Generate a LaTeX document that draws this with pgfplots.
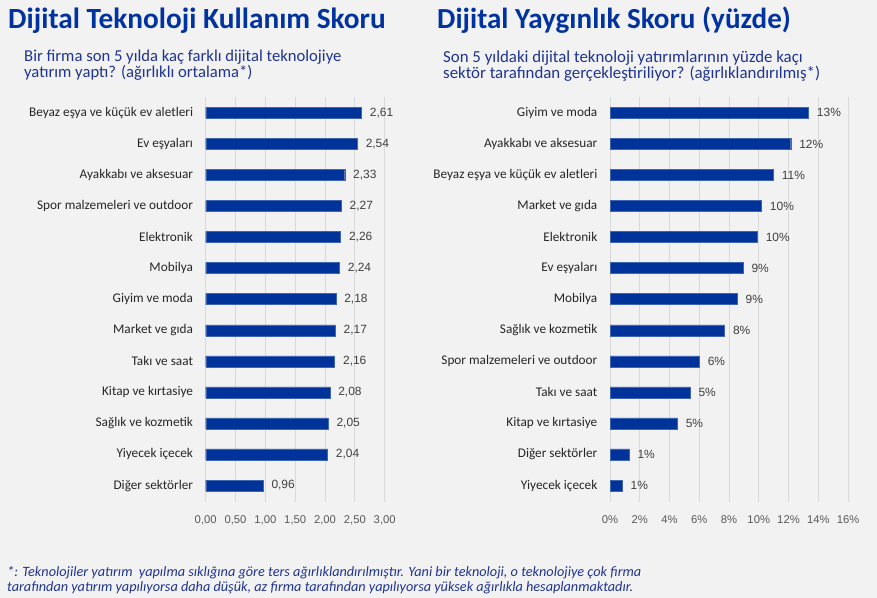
\documentclass[border=0pt]{standalone}
\usepackage{pgfplots}
\pgfplotsset{compat=1.18}
\usepackage{fontspec}
\setmainfont{Carlito}
\newfontfamily\arial{Liberation Sans}
\definecolor{bg}{HTML}{F2F2F2}
\definecolor{barc}{HTML}{003399}
\definecolor{ttl}{HTML}{0033A0}
\definecolor{sub}{HTML}{1F3490}
\definecolor{gridc}{HTML}{D9D9D9}
\definecolor{tickc}{HTML}{595959}
\definecolor{valc}{HTML}{404040}
\definecolor{catc}{HTML}{262626}

\pgfplotstableread{
idx val
0 2.61
1 2.54
2 2.33
3 2.27
4 2.26
5 2.24
6 2.18
7 2.17
8 2.16
9 2.08
10 2.05
11 2.04
12 0.96
}\lefttab

\pgfplotstableread{
idx val
0 13.34
1 12.15
2 10.98
3 10.18
4 9.9
5 8.94
6 8.55
7 7.7
8 6.0
9 5.38
10 4.52
11 1.28
12 0.82
}\righttab

\pgfplotsset{
  common/.style={
    scale only axis,
    xbar,
    y dir=reverse,
    ymin=-0.52, ymax=12.52,
    height=405bp,
    bar width=11bp,
    axis line style={draw=none},
    major tick length=0pt,
    xmajorgrids,
    major grid style={gridc, line width=0.8pt},
    ytick={0,...,12},
    /pgf/number format/assume math mode=true,
    yticklabel style={font=\fontsize{13.3}{15}\selectfont, text=catc, anchor=east, inner sep=0pt, xshift=-12.5bp},
    xticklabel style={font=\arial\fontsize{11.3}{13}\selectfont, text=tickc, anchor=base, inner sep=0pt, yshift=-21.5bp},
    nodes near coords,
    every node near coord/.append style={font=\arial\fontsize{12}{13}\selectfont, text=valc, xshift=5bp},
  }
}

\begin{document}
\begin{tikzpicture}[x=1bp,y=1bp]
\fill[bg] (0,0) rectangle (877,598);

% titles
\node[anchor=base west, inner sep=0, font=\fontsize{29.4}{32}\selectfont\bfseries, text=ttl] at (8,569.5) {Dijital Teknoloji Kullanım Skoru};
\node[anchor=base west, inner sep=0, font=\fontsize{29.2}{32}\selectfont\bfseries, text=ttl] at (437,569.5) {Dijital Yaygınlık Skoru (yüzde)};

\node[anchor=base west, inner sep=0, font=\fontsize{16.7}{18}\selectfont, text=sub] at (24,536) {Bir firma son 5 yılda kaç farklı dijital teknolojiye};
\node[anchor=base west, inner sep=0, font=\fontsize{16.7}{18}\selectfont, text=sub] at (24,520.5) {yatırım yaptı? (ağırlıklı ortalama*)};
\node[anchor=base west, inner sep=0, font=\fontsize{16.9}{18}\selectfont, text=sub] at (443,535) {Son 5 yıldaki dijital teknoloji yatırımlarının yüzde kaçı};
\node[anchor=base west, inner sep=0, font=\fontsize{16.9}{18}\selectfont, text=sub] at (443,519) {sektör tarafından gerçekleştiriliyor? (ağırlıklandırılmış*)};

% footnote
\node[anchor=base west, inner sep=0, font=\fontsize{14.3}{15}\selectfont\itshape, text=sub] at (7,21) {*: Teknolojiler yatırım\ \ yapılma sıklığına göre ters ağırlıklandırılmıştır. Yani bir teknoloji, o teknolojiye çok firma};
\node[anchor=base west, inner sep=0, font=\fontsize{14.3}{15}\selectfont\itshape, text=sub] at (7,6) {tarafından yatırım yapılıyorsa daha düşük, az firma tarafından yapılıyorsa yüksek ağırlıkla hesaplanmaktadır.};

% left chart
\begin{axis}[common,
  at={(205.7bp,96.3bp)}, anchor=south west,
  width=179bp,
  xmin=0, xmax=3,
  xtick={0,0.5,...,3},
  xticklabel={\pgfmathprintnumber[fixed,fixed zerofill,precision=2,use comma]{\tick}},
  yticklabels={Beyaz eşya ve küçük ev aletleri, Ev eşyaları, Ayakkabı ve aksesuar, Spor malzemeleri ve outdoor, Elektronik, Mobilya, Giyim ve moda, Market ve gıda, Takı ve saat, Kitap ve kırtasiye, Sağlık ve kozmetik, Yiyecek içecek, Diğer sektörler},
  nodes near coords={\pgfmathprintnumber[fixed,fixed zerofill,precision=2,use comma]{\pgfplotspointmeta}},
]
\addplot[fill=barc, draw=barc!75!white, line width=0.4pt] table[x=val, y=idx] {\lefttab};
\end{axis}

% right chart
\begin{axis}[common,
  at={(610bp,96.3bp)}, anchor=south west,
  width=238bp,
  xmin=0, xmax=16,
  xtick={0,2,...,16},
  xticklabel={\pgfmathprintnumber{\tick}\%},
  yticklabels={Giyim ve moda, Ayakkabı ve aksesuar, Beyaz eşya ve küçük ev aletleri, Market ve gıda, Elektronik, Ev eşyaları, Mobilya, Sağlık ve kozmetik, Spor malzemeleri ve outdoor, Takı ve saat, Kitap ve kırtasiye, Diğer sektörler, Yiyecek içecek},
  nodes near coords={\pgfmathprintnumber[fixed,precision=0]{\pgfplotspointmeta}\%},
]
\addplot[fill=barc, draw=barc!75!white, line width=0.4pt] table[x=val, y=idx] {\righttab};
\end{axis}

\pgfresetboundingbox
\useasboundingbox (0,0) rectangle (877,598);
\end{tikzpicture}
\end{document}
